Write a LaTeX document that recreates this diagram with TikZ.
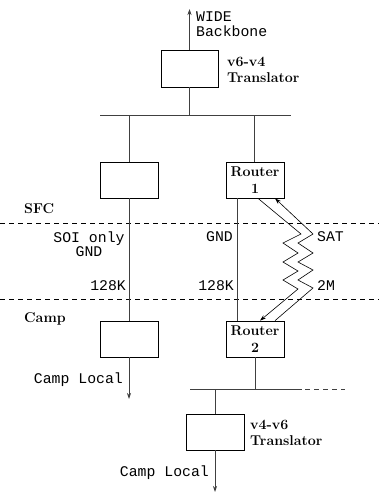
\documentclass[tikz,border=0pt]{standalone}
\usepackage{fontspec}
\newfontfamily\monofont{Liberation Mono}
\usetikzlibrary{arrows.meta}
\tikzset{
  box/.style={draw=black, line width=0.7pt, minimum width=58pt, minimum height=36pt, inner sep=0pt, font=\fontsize{14.2}{17}\selectfont\bfseries, align=center},
  net/.style={draw=black!75, line width=0.8pt},
  tip/.style={-{Stealth[length=6pt,width=4pt]}},
  mono/.style={font=\monofont\fontsize{14.8}{14.5}\selectfont, inner sep=0pt, align=center},
  bold/.style={font=\fontsize{14.2}{16}\selectfont\bfseries, inner sep=0pt, align=left},
  zone/.style={draw=black, line width=0.7pt, dash pattern=on 5pt off 4pt},
  zig/.style={draw=black, line width=0.6pt, -{Stealth[length=6pt,width=4pt]}}
}
\begin{document}
\begin{tikzpicture}[x=1pt,y=-1pt]
\useasboundingbox (0,0) rectangle (379,493);
% zone boundaries
\draw[zone] (0,223) -- (379,223);
\draw[zone] (0,299) -- (379,299);
% boxes
\node[box, minimum width=57pt, minimum height=37pt] (tr1) at (189.5,68.5) {};
\node[box] (lb1) at (129,180) {};
\node[box] (r1) at (255,180) {Router\\1};
\node[box] (lb2) at (129,339) {};
\node[box] (r2) at (255,339) {Router\\2};
\node[box] (tr2) at (215,432) {};
% coordinates
\coordinate (wide) at (189.5,9);
\coordinate (busL) at (100,115);
\coordinate (busR) at (291,115);
\coordinate (busT) at (189.5,115);
\coordinate (busA) at (129,115);
\coordinate (busB) at (254,115);
\coordinate (bus2L) at (190,389);
\coordinate (bus2R) at (302,389);
\coordinate (bus2D) at (345,389);
\coordinate (bus2A) at (255,389);
\coordinate (bus2B) at (215,389);
\coordinate (loc1) at (129,399);
\coordinate (loc2) at (215,492);
% top network
\draw[net, tip] (tr1.north) -- (wide);
\draw[net] (tr1.south) -- (busT);
\draw[net] (busL) -- (busR);
\draw[net] (busA) -- (lb1.north);
\draw[net] (busB) -- (busB |- r1.north);
% ground links
\draw[net] (lb1.south) -- (lb2.north);
\draw[net] (r1.south -| 237,0) -- (r2.north -| 237,0);
\draw[net, tip] (lb2.south) -- (loc1);
% bottom network
\draw[net] (r2.south) -- (bus2A);
\draw[net] (bus2L) -- (bus2R);
\draw[net, dash pattern=on 5pt off 4pt] (bus2R) ++(3,0) -- (bus2D);
\draw[net] (bus2B) -- (tr2.north);
\draw[net, tip] (tr2.south) -- (loc2);
% satellite zigzags
\draw[zig] ([xshift=3pt]r1.south) -- (301,234) -- (283,243) -- (298,253) -- (283,262) -- (298,271) -- (283,280) -- (298,289) -- ([xshift=5pt]r2.north);
\draw[zig] ([xshift=20pt]r2.north) -- (313,288) -- (298,280) -- (313,270) -- (298,262) -- (313,253) -- (298,243) -- (313,234) -- ([xshift=20pt]r1.south);
% labels
\node[mono, anchor=west, align=left] (lwide) at (196,24) {WIDE\\Backbone};
\node[bold, anchor=west] (ltr1) at (227,70) {v6-v4\\Translator};
\node[bold, anchor=west] (lsfc) at (24,209) {SFC};
\node[bold, anchor=west] (lcamp) at (24,319) {Camp};
\node[mono] (lsoi) at (89,244) {SOI only\\GND};
\node[mono, anchor=east] (lgnd) at (233,237) {GND};
\node[mono, anchor=west] (lsat) at (317,237) {SAT};
\node[mono, anchor=east] (l128a) at (126,286) {128K};
\node[mono, anchor=east] (l128b) at (234,286) {128K};
\node[mono, anchor=west] (l2m) at (317,286) {2M};
\node[mono, anchor=east] (lcl1) at (123,380) {Camp Local};
\node[bold, anchor=west] (ltr2) at (250,433) {v4-v6\\Translator};
\node[mono, anchor=east] (lcl2) at (209,473) {Camp Local};
\end{tikzpicture}
\end{document}
